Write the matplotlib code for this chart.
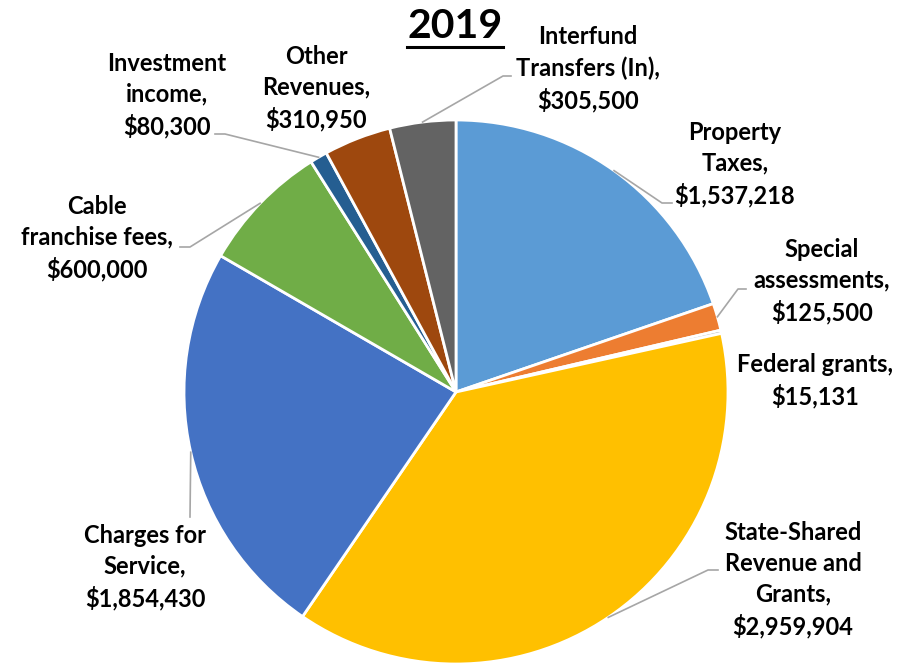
import numpy as np
import matplotlib
matplotlib.use("Agg")
import matplotlib.pyplot as plt
from matplotlib.lines import Line2D

plt.rcParams['font.family'] = ['Lato', 'DejaVu Sans']

title = "2019"
categories = ["Property\nTaxes", "Special\nassessments", "Federal grants", "State-Shared\nRevenue and\nGrants",
              "Charges for\nService", "Cable\nfranchise fees", "Investment\nincome", "Other\nRevenues",
              "Interfund\nTransfers (In)"]
values = [1537218, 125500, 15131, 2959904, 1854430, 600000, 80300, 310950, 305500]
colors = ["#5B9BD5", "#ED7D31", "#A5A5A5", "#FFC000", "#4472C4", "#70AD47", "#255E91", "#9E480E", "#636363"]

# label layout (pixel positions of text centres) and leader elbows
label_pos = [(735, 164), (822, 281), (815, 381), (793, 580), (145, 567), (97, 238), (167, 95), (316, 88), (588, 69)]
# elbow: (x, y, horizontal tail length) or None
elbows = [(662, 203, 10), (738, 289, 8), None, (708, 570, 10), (190, 517, 0), (190, 247, -10), (225, 134, -10), None, (503, 76, 8)]

W, H = 917, 668
fig = plt.figure(figsize=(W / 100, H / 100), dpi=100)
cx, cy, R = 456, 392, 272
ax = fig.add_axes([(cx - R) / W, (H - cy - R) / H, 2 * R / W, 2 * R / H])
wedges, _ = ax.pie(values, colors=colors, startangle=90, counterclock=False,
                   wedgeprops=dict(edgecolor='white', linewidth=2.0))
ax.set_xlim(-1, 1)
ax.set_ylim(-1, 1)
ax.axis('off')

def px2fig(x, y):
    return x / W, 1 - y / H

total = float(sum(values))
cum = 0.0
for i, v in enumerate(values):
    frac = v / total
    mid = (cum + frac / 2) * 2 * np.pi
    cum += frac
    label = f"{categories[i]},\n${v:,}"
    tx, ty = px2fig(*label_pos[i])
    fig.text(tx, ty, label, ha='center', va='center', fontsize=17, fontweight='bold',
             linespacing=1.4, color='black')
    if elbows[i] is not None:
        ex, ey, tail = elbows[i]
        edge_disp = ax.transData.transform((np.sin(mid), np.cos(mid)))
        sx, sy = fig.transFigure.inverted().transform(edge_disp)
        e1 = px2fig(ex, ey)
        e2 = px2fig(ex + tail, ey)
        fig.add_artist(Line2D([sx, e1[0], e2[0]], [sy, e1[1], e2[1]], transform=fig.transFigure,
                              color='#A6A6A6', linewidth=1.2))

t = fig.text(455 / W, 1 - 27 / H, title, ha='center', va='center', fontsize=29.5, fontweight='bold')
fig.canvas.draw()
bb = t.get_window_extent()
uy = bb.y0 - 1
fig.add_artist(Line2D([bb.x0 / W, bb.x1 / W], [uy / H, uy / H], transform=fig.transFigure,
                      color='black', linewidth=2.2))

fig.savefig("out.png", dpi=100)
